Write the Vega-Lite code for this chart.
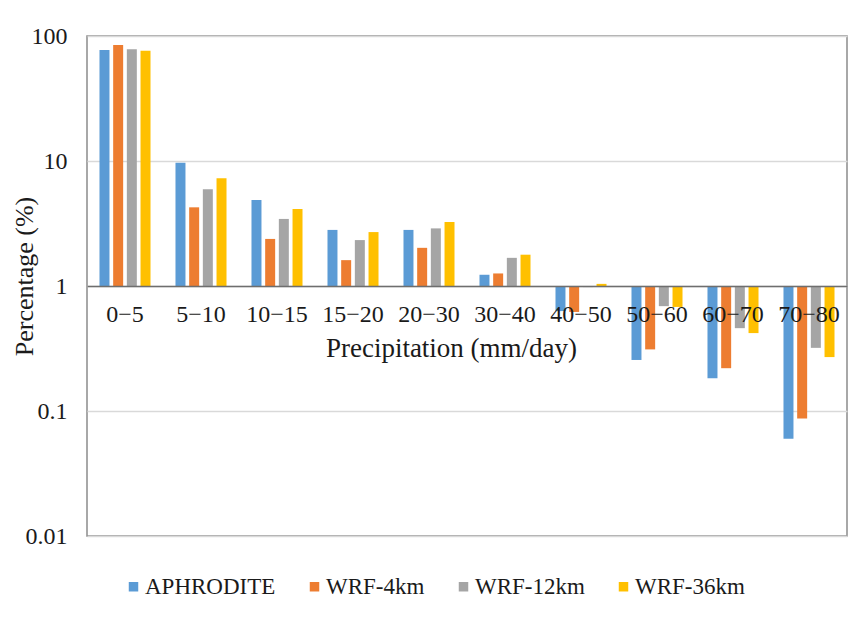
{
  "$schema": "https://vega.github.io/schema/vega-lite/v6.json",
  "width": 760,
  "height": 500,
  "autosize": {"type": "none"},
  "padding": {"left": 87, "top": 36, "right": 17, "bottom": 81},
  "background": "white",
  "config": {
    "font": "Times New Roman, Liberation Serif, serif",
    "view": {"stroke": "#8c8c8c", "strokeWidth": 1.5},
    "axis": {"labelFont": "Times New Roman, Liberation Serif, serif", "titleFont": "Times New Roman, Liberation Serif, serif"},
    "legend": {"labelFont": "Times New Roman, Liberation Serif, serif"}
  },
  "data": {
    "values": [
      {"range": "0−5", "source": "APHRODITE", "pct": 77.3},
      {"range": "0−5", "source": "WRF-4km", "pct": 84.7},
      {"range": "0−5", "source": "WRF-12km", "pct": 78.2},
      {"range": "0−5", "source": "WRF-36km", "pct": 76.3},
      {"range": "5−10", "source": "APHRODITE", "pct": 9.7},
      {"range": "5−10", "source": "WRF-4km", "pct": 4.26},
      {"range": "5−10", "source": "WRF-12km", "pct": 5.94},
      {"range": "5−10", "source": "WRF-36km", "pct": 7.27},
      {"range": "10−15", "source": "APHRODITE", "pct": 4.88},
      {"range": "10−15", "source": "WRF-4km", "pct": 2.38},
      {"range": "10−15", "source": "WRF-12km", "pct": 3.44},
      {"range": "10−15", "source": "WRF-36km", "pct": 4.13},
      {"range": "15−20", "source": "APHRODITE", "pct": 2.81},
      {"range": "15−20", "source": "WRF-4km", "pct": 1.61},
      {"range": "15−20", "source": "WRF-12km", "pct": 2.33},
      {"range": "15−20", "source": "WRF-36km", "pct": 2.7},
      {"range": "20−30", "source": "APHRODITE", "pct": 2.81},
      {"range": "20−30", "source": "WRF-4km", "pct": 2.02},
      {"range": "20−30", "source": "WRF-12km", "pct": 2.89},
      {"range": "20−30", "source": "WRF-36km", "pct": 3.25},
      {"range": "30−40", "source": "APHRODITE", "pct": 1.23},
      {"range": "30−40", "source": "WRF-4km", "pct": 1.26},
      {"range": "30−40", "source": "WRF-12km", "pct": 1.68},
      {"range": "30−40", "source": "WRF-36km", "pct": 1.78},
      {"range": "40−50", "source": "APHRODITE", "pct": 0.63},
      {"range": "40−50", "source": "WRF-4km", "pct": 0.62},
      {"range": "40−50", "source": "WRF-12km", "pct": 0.98},
      {"range": "40−50", "source": "WRF-36km", "pct": 1.04},
      {"range": "50−60", "source": "APHRODITE", "pct": 0.256},
      {"range": "50−60", "source": "WRF-4km", "pct": 0.311},
      {"range": "50−60", "source": "WRF-12km", "pct": 0.69},
      {"range": "50−60", "source": "WRF-36km", "pct": 0.68},
      {"range": "60−70", "source": "APHRODITE", "pct": 0.183},
      {"range": "60−70", "source": "WRF-4km", "pct": 0.22},
      {"range": "60−70", "source": "WRF-12km", "pct": 0.46},
      {"range": "60−70", "source": "WRF-36km", "pct": 0.42},
      {"range": "70−80", "source": "APHRODITE", "pct": 0.06},
      {"range": "70−80", "source": "WRF-4km", "pct": 0.087},
      {"range": "70−80", "source": "WRF-12km", "pct": 0.32},
      {"range": "70−80", "source": "WRF-36km", "pct": 0.27}
    ]
  },
  "mark": {"type": "bar"},
  "encoding": {
    "x": {
      "field": "range",
      "type": "nominal",
      "sort": null,
      "scale": {"paddingInner": 0.28, "paddingOuter": 0.14},
      "axis": {
        "title": "Precipitation (mm/day)",
        "offset": -250,
        "zindex": 1,
        "labelAngle": 0,
        "labelFontSize": 24,
        "labelColor": "#1a1a1a",
        "labelPadding": 16,
        "ticks": false,
        "domainColor": "#6e6e6e",
        "domainWidth": 1.5,
        "titleFontSize": 27,
        "titleFontWeight": "normal",
        "titleColor": "#1a1a1a",
        "titlePadding": 9,
        "titleX": 364,
        "titleAlign": "center"
      }
    },
    "xOffset": {
      "field": "source",
      "type": "nominal",
      "sort": ["APHRODITE", "WRF-4km", "WRF-12km", "WRF-36km"],
      "scale": {"paddingInner": 0.27, "paddingOuter": 0.135}
    },
    "y": {
      "field": "pct",
      "type": "quantitative",
      "scale": {"type": "log", "domain": [0.01, 100], "nice": false},
      "axis": {
        "title": "Percentage (%)",
        "values": [0.01, 0.1, 1, 10, 100],
        "format": "~g",
        "labelFontSize": 24,
        "labelColor": "#1a1a1a",
        "labelPadding": 20,
        "ticks": false,
        "domain": false,
        "gridColor": "#d9d9d9",
        "gridWidth": 1.5,
        "titleFontSize": 26,
        "titleFontWeight": "normal",
        "titleColor": "#1a1a1a",
        "titleX": -50,
        "titleY": 240
      }
    },
    "y2": {"datum": 1},
    "color": {
      "field": "source",
      "type": "nominal",
      "sort": ["APHRODITE", "WRF-4km", "WRF-12km", "WRF-36km"],
      "scale": {
        "domain": ["APHRODITE", "WRF-4km", "WRF-12km", "WRF-36km"],
        "range": ["#5B9BD5", "#ED7D31", "#A5A5A5", "#FFC000"]
      },
      "legend": {
        "title": null,
        "orient": "none",
        "direction": "horizontal",
        "columns": 4,
        "legendX": 35,
        "legendY": 539,
        "symbolType": "square",
        "symbolSize": 90,
        "symbolStrokeWidth": 0,
        "labelFontSize": 23,
        "labelColor": "#1a1a1a",
        "labelOffset": 0,
        "columnPadding": 27
      }
    }
  }
}
